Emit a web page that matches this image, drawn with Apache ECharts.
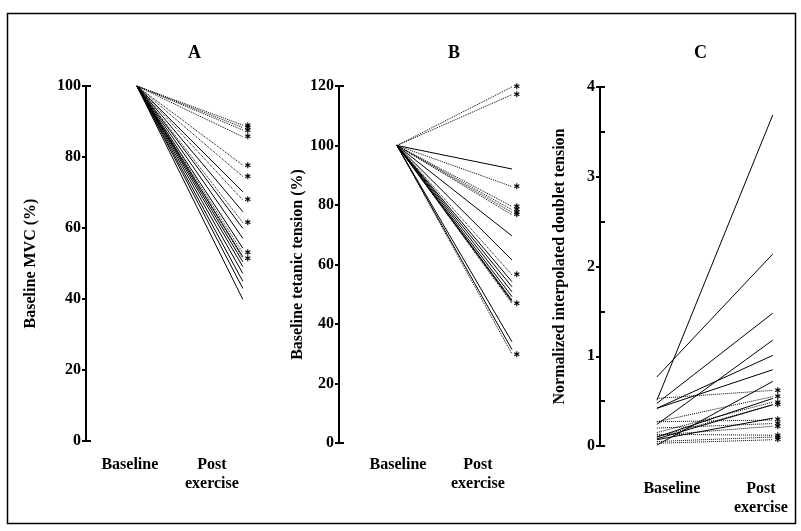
<!DOCTYPE html>
<html>
<head>
<meta charset="utf-8">
<script src="https://cdn.jsdelivr.net/npm/echarts@6/dist/echarts.min.js"></script>
<style>html,body{margin:0;background:#fff}#main{width:801px;height:531px}</style>
</head>
<body>
<div id="main"></div>
<script>
// 数据
var panelTitles = ['A', 'B', 'C'];
var yNames = ['Baseline MVC (%)', 'Baseline tetanic tension (%)', 'Normalized interpolated doublet tension'];

// A: every subject starts at 100
var aSolidPost = [70.2, 64.6, 59.9, 57.1, 54.3, 51.9, 50.5, 49.1, 47.2, 45.0, 43.0, 39.9];
var aDottedPost = [89.0, 88.3, 87.6, 85.7, 77.7, 74.5, 67.9, 61.5, 53.0, 51.5];

// B: every subject starts at 100
var bSolidPost = [92.1, 69.6, 61.5, 54.2, 52.5, 50.8, 49.2, 48.0, 47.5, 34.0, 31.4];
var bDottedPost = [119.7, 117.1, 86.2, 79.5, 78.4, 77.5, 76.7, 56.5, 46.9, 29.9];

// C
var cSolidBase = [0.51, 0.77, 0.475, 0.42, 0.42, 0.24, 0.01, 0.10, 0.08, 0.07];
var cSolidPost = [3.69, 2.14, 1.48, 1.01, 0.85, 1.18, 0.72, 0.53, 0.46, 0.31];
var cDottedBase = [0.53, 0.27, 0.15, 0.10, 0.27, 0.20, 0.12, 0.13, 0.05, 0.03];
var cDottedPost = [0.62, 0.55, 0.49, 0.46, 0.29, 0.25, 0.22, 0.12, 0.10, 0.07];

var FONT = '"Liberation Serif", "DejaVu Serif", serif';

var myChart = echarts.init(document.getElementById('main'));

var grids = [
  {left: 86, top: 86, width: 178, height: 355},
  {left: 339, top: 86, width: 196, height: 357},
  {left: 600, top: 87, width: 196, height: 359}
];
var xMins = [-0.48, -0.504, -0.491];
var labelPos = [[-0.066, 0.708], [0.009, 0.704], [0.129, 0.897]];
var labelMargin = [14, 12, 33];
var yRange = [[0, 100, 20], [0, 120, 20], [0, 4, 1]];
var bracketTicks = [[0, 100], [0, 120], [0, 0.5, 1.5, 2.5, 3.5, 4]];
var nameGaps = [47, 31, 32];

var xAxes = [], yAxes = [], series = [];

for (var i = 0; i < 3; i++) {
  xAxes.push({
    type: 'value', gridIndex: i, min: xMins[i], max: 1.2,
    axisLine: {show: false}, axisTick: {show: false}, splitLine: {show: false},
    axisLabel: {
      customValues: labelPos[i],
      formatter: function (v) { return v < 0.4 ? 'Baseline' : 'Post\nexercise'; },
      margin: labelMargin[i],
      color: '#000', fontFamily: FONT, fontWeight: 'bold', fontSize: 16, lineHeight: 19,
      verticalAlign: 'top'
    }
  });
  yAxes.push({
    type: 'value', gridIndex: i, position: 'left', min: yRange[i][0], max: yRange[i][1], interval: yRange[i][2],
    name: yNames[i], nameLocation: 'middle', nameGap: nameGaps[i],
    nameTextStyle: {color: '#000', fontFamily: FONT, fontWeight: 'bold', fontSize: 16},
    axisLine: {show: true, onZero: false, lineStyle: {color: '#000', width: 2}},
    axisTick: {show: true, length: 4, lineStyle: {color: '#000', width: 2}},
    splitLine: {show: false},
    axisLabel: {color: '#000', fontFamily: FONT, fontWeight: 'bold', fontSize: 16, margin: 5}
  });
}
// 括号形的内侧刻度
for (var j = 0; j < 3; j++) {
  yAxes.push({
    type: 'value', gridIndex: j, position: 'left', offset: 0, min: yRange[j][0], max: yRange[j][1],
    axisLine: {show: false, onZero: false},
    axisTick: {show: true, inside: true, length: 5, customValues: bracketTicks[j], lineStyle: {color: '#000', width: 2}},
    axisLabel: {show: false}, splitLine: {show: false}
  });
}

function addLine(idx, b, p, dotted) {
  series.push({
    type: 'line', xAxisIndex: idx, yAxisIndex: idx,
    data: [[0, b], [1, p]],
    symbol: 'none', silent: true, animation: false,
    lineStyle: {color: '#000', width: 1, type: dotted ? 'dotted' : 'solid'},
    endLabel: dotted ? {show: true, formatter: '\u2217', distance: 1, color: '#000', fontSize: 9, fontWeight: 'bold'} : {show: false}
  });
}

aSolidPost.forEach(function (v) { addLine(0, 100, v, false); });
aDottedPost.forEach(function (v) { addLine(0, 100, v, true); });
bSolidPost.forEach(function (v) { addLine(1, 100, v, false); });
bDottedPost.forEach(function (v) { addLine(1, 100, v, true); });
cSolidPost.forEach(function (v, k) { addLine(2, cSolidBase[k], v, false); });
cDottedPost.forEach(function (v, k) { addLine(2, cDottedBase[k], v, true); });

var titleLeft = [188, 448, 694];
var option = {
  backgroundColor: '#fff',
  animation: false,
  title: panelTitles.map(function (t, k) {
    return {text: t, left: titleLeft[k], top: 44, padding: 0,
      textStyle: {color: '#000', fontFamily: FONT, fontWeight: 'bold', fontSize: 18}};
  }),
  grid: grids,
  xAxis: xAxes,
  yAxis: yAxes,
  series: series,
  graphic: [{
    type: 'rect', silent: true,
    shape: {x: 7.5, y: 13.5, width: 788, height: 510},
    style: {fill: 'none', stroke: '#000', lineWidth: 1.5}
  }]
};

myChart.setOption(option);
</script>
</body>
</html>
